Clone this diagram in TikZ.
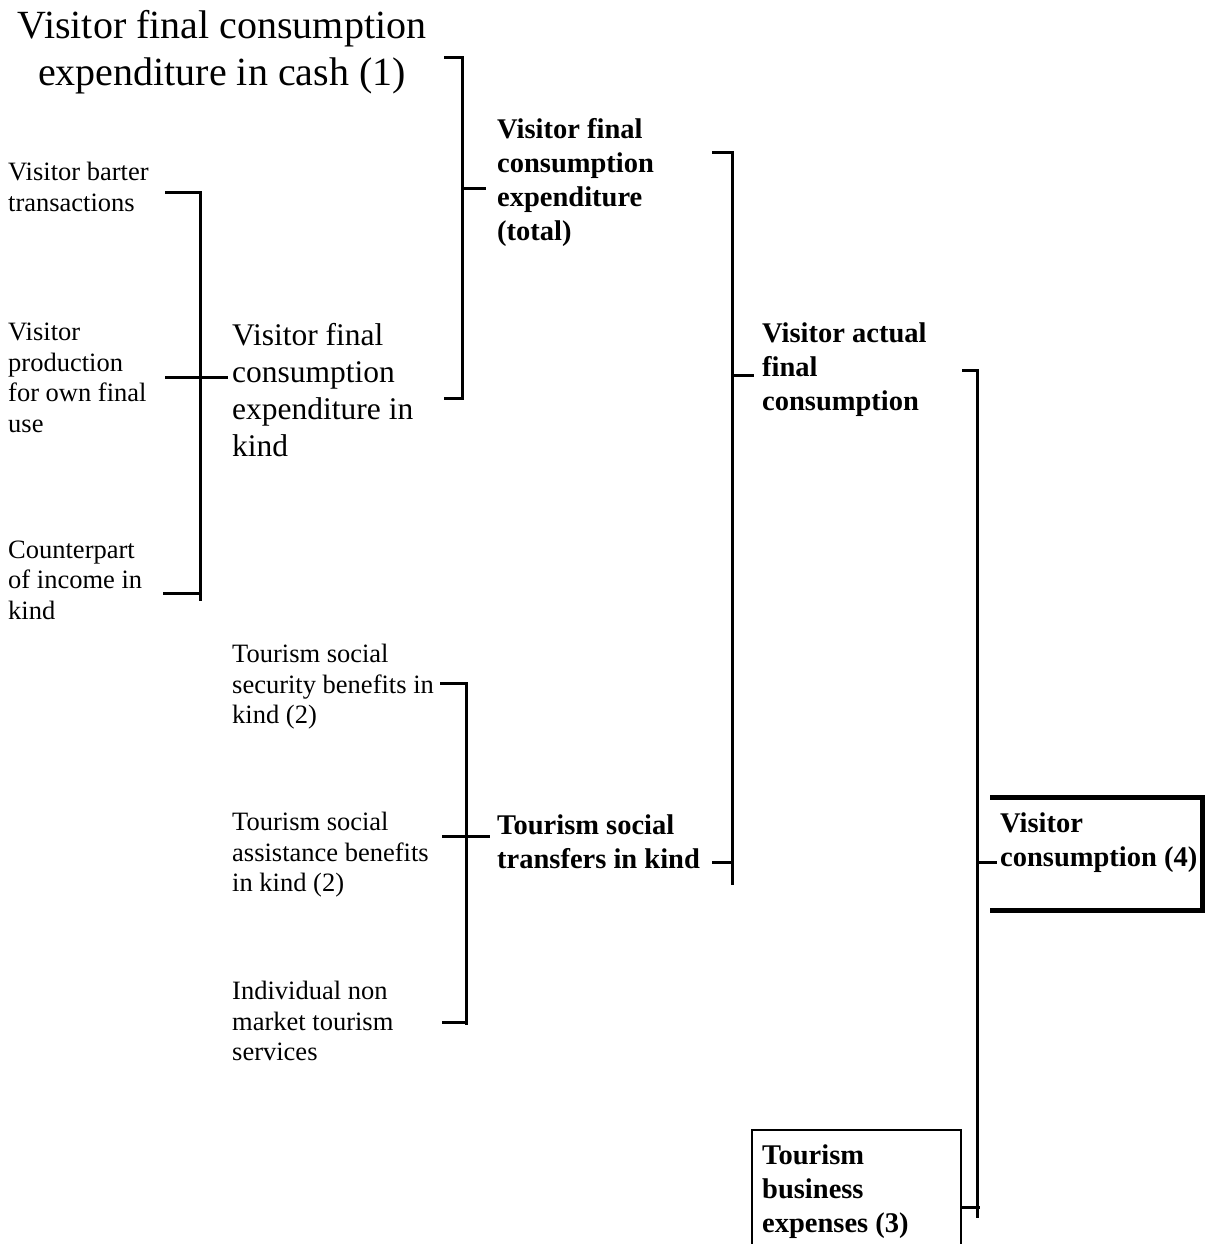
\documentclass[tikz,border=0pt]{standalone}
\usepackage{fontspec}
\setmainfont{Liberation Serif}
\begin{document}
\begin{tikzpicture}[x=1pt,y=-1pt,
  brk/.style={line width=3pt},
  thickbox/.style={line width=5pt},
  thinbox/.style={line width=2pt},
  small/.style={anchor=west, align=left, inner sep=0pt, font=\fontsize{26.5}{30.5}\selectfont},
  medium/.style={anchor=west, align=left, inner sep=0pt, font=\fontsize{31.5}{37}\selectfont},
  boldtxt/.style={anchor=west, align=left, inner sep=0pt, font=\fontsize{28.5}{34}\selectfont\bfseries},
  big/.style={anchor=center, align=center, inner sep=0pt, font=\fontsize{40}{47}\selectfont}]
\useasboundingbox (0,0) rectangle (1207,1244);
% texts
\node[big] (cash) at (222,52) {Visitor final consumption\\expenditure in cash (1)};
\node[small] (barter) at (8,187) {Visitor barter\\transactions};
\node[small] (own) at (8,378) {Visitor\\production\\for own final\\use};
\node[small] (income) at (8,580) {Counterpart\\of income in\\kind};
\node[medium] (kind) at (232,390) {Visitor final\\consumption\\expenditure in\\kind};
\node[boldtxt] (total) at (497,182) {Visitor final\\consumption\\expenditure\\(total)};
\node[boldtxt] (actual) at (762,370) {Visitor actual\\final\\consumption};
\node[small] (secur) at (232,687) {Tourism social\\security benefits in\\kind (2)};
\node[small] (assist) at (232,855) {Tourism social\\assistance benefits\\in kind (2)};
\node[small] (nonmkt) at (232,1021) {Individual non\\market tourism\\services};
\node[boldtxt] (transf) at (497,842) {Tourism social\\transfers in kind};
\node[boldtxt] (viscons) at (1000,843) {Visitor\\consumption (4)};
\node[boldtxt] (busexp) at (762,1192) {Tourism\\business\\expenses (3)};
% bracket A
\draw[brk] (444,58) -- (462,58) -- (462,398) -- (444,398);
\draw[brk] (462,188) -- (486,188);
% bracket B
\draw[brk] (712,152) -- (732,152) -- (732,885);
\draw[brk] (734,375) -- (754,375);
\draw[brk] (712,862) -- (732,862);
% bracket C
\draw[brk] (962,370) -- (977,370) -- (977,1218);
\draw[brk] (977,862) -- (997,862);
\draw[brk] (961,1207) -- (980,1207);
% bracket D
\draw[brk] (165,192) -- (200,192) -- (200,601);
\draw[brk] (165,377) -- (228,377);
\draw[brk] (163,593) -- (200,593);
% bracket E
\draw[brk] (440,683) -- (466,683) -- (466,1025);
\draw[brk] (442,836) -- (490,836);
\draw[brk] (442,1022) -- (466,1022);
% boxes
\draw[thickbox] (990,797) -- (1202,797) -- (1202,910) -- (990,910);
\draw[thinbox] (752,1244) -- (752,1130) -- (961,1130) -- (961,1244);
\end{tikzpicture}
\end{document}
